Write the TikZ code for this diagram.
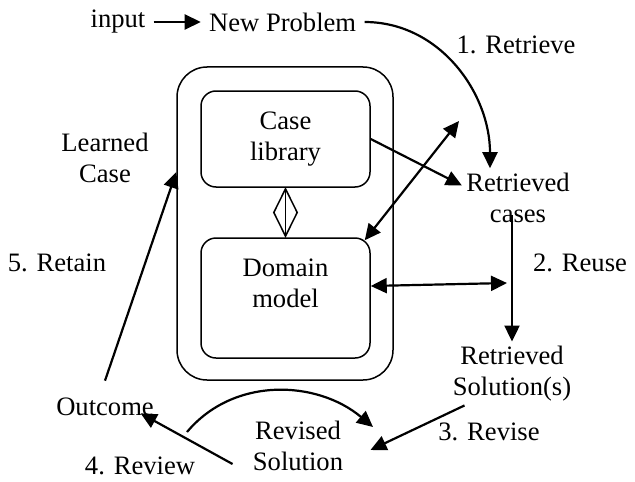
\documentclass[tikz,border=0pt]{standalone}
\usepackage{fontspec}
\setmainfont{Liberation Serif}
\usetikzlibrary{shapes.geometric,
                arrows.meta,
                positioning}
\tikzset{block/.style=
   {rectangle,
    draw,
    line width=0.75pt,
    align=center,
    rounded corners=7.5pt,
    minimum width=84.5pt}}
\tikzset{txt/.style = {align=center, inner sep=2pt}}
\tikzset{tip/.tip = {Triangle[length=8pt, width=7.5pt]}}
\tikzset{arrow/.style = {draw, line width=1.1pt, -tip}}
\tikzset{twoway/.style = {draw, line width=1.1pt, tip-tip}}

\begin{document}
\begin{tikzpicture}[x=0.5pt, y=-0.5pt, font=\fontsize{13.3}{15.5}\selectfont]
    \useasboundingbox (0,0) rectangle (635,481);

    % Place nodes
    \node [inner sep=4pt] (input) at (118,22) {input};
    \node [inner sep=4pt, right=23.5pt of input] (problem) {New Problem};

    \node [block, minimum width=108pt, minimum height=156.5pt,
           rounded corners=15pt] (store) at (285,223.5) {};
    \node [block, minimum height=48pt] (caselib) at (285.5,139) {Case\\library};
    \node [diamond, draw, line width=0.75pt, aspect=0.5, inner sep=0pt,
           minimum width=12pt, minimum height=24pt,
           below=0pt of caselib] (link) {};
    \node [block, minimum height=60pt, below=0pt of link] (domain) {};
    \node [txt] (domtext) at (285.5,283.5) {Domain\\model};

    \node [txt] (retcases) at (518,197.5) {Retrieved\\cases};
    \node [txt] (retsol) at (512,373.5) {Retrieved\\Solution(s)};
    \node [txt] (revsol) at (298,445.5) {Revised\\Solution};
    \node [txt] (outcome) at (105,407) {Outcome};
    \node [txt] (learned) at (105,157.5) {Learned\\Case};

    \node [txt] (retrieve) at (516,45) {1. Retrieve};
    \node [txt] (reuse) at (580,263) {2. Reuse};
    \node [txt] (revise) at (489,432) {3. Revise};
    \node [txt] (review) at (140,466) {4. Review};
    \node [txt] (retain) at (57,263) {5. Retain};

    \coordinate (up) at (459,121);
    \coordinate (side) at (507,283);
    \coordinate (loopa) at (187,432);
    \coordinate (loopb) at (373,427);

    % Draw edges
    \path [arrow] (input) -- (problem);
    \path [arrow] (problem.east) to [out=0, in=90] ([xshift=-14pt]retcases.north);
    \path [arrow] (caselib.east) -- ([yshift=6pt]retcases.west);
    \path [twoway] ([xshift=-3pt, yshift=-1.5pt]domain.north east) -- (up);
    \draw [line width=0.75pt] (caselib.south) -- (domain.north);

    \path [arrow, shorten <=-6pt] (retcases.south -| retsol.north) -- (retsol.north);
    \path [twoway] ([yshift=6pt]domain.east) -- (side);

    \path [arrow] ([xshift=8pt]retsol.south west)
        -- ([xshift=11.5pt, yshift=-2.25pt]revsol.east);
    \path [arrow] (loopa) to [out=50, in=140] (loopb);
    \path [arrow] ([xshift=-8pt, yshift=-9.25pt]revsol.west)
        -- ([xshift=-8.75pt, yshift=3.5pt]outcome.south east);
    \path [arrow] ([yshift=6.5pt]outcome.north)
        -- ([yshift=25.75pt]store.west);

\end{tikzpicture}
\end{document}
